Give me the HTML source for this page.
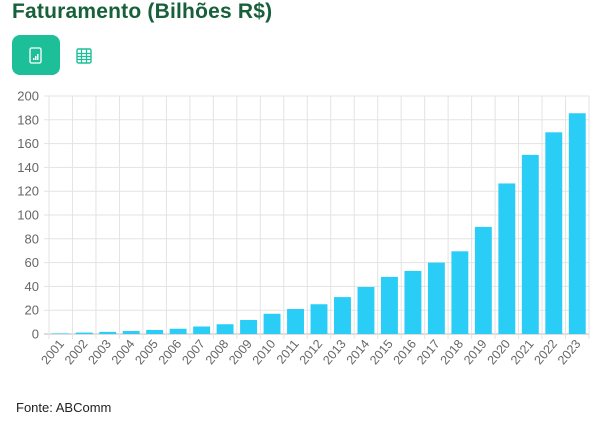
<!DOCTYPE html>
<html><head><meta charset="utf-8"><style>
body{margin:0;width:601px;height:425px;background:#fff;font-family:"Liberation Sans",sans-serif;position:relative;overflow:hidden}
#title{position:absolute;left:12px;top:0px;font-size:21px;font-weight:bold;color:#17603a;letter-spacing:0.2px}
#btn-chart{position:absolute;left:12px;top:35px;width:48px;height:40px;background:#1dbf98;border-radius:8px}
#btn-table{position:absolute;left:76px;top:48px;width:16px;height:16px}
#src{position:absolute;left:16px;top:400px;font-size:13px;color:#222}
svg{position:absolute;left:0;top:0}
</style></head><body>
<div id="title">Faturamento (Bilhões R$)</div>
<div id="btn-chart">
<svg width="48" height="40"><rect x="18" y="13" width="11" height="15" rx="1.5" fill="none" stroke="#fff" stroke-width="1.3"/><rect x="21" y="23" width="1.5" height="2" fill="#fff"/><rect x="23" y="21" width="1.5" height="4" fill="#fff"/><rect x="25" y="19" width="1.5" height="6" fill="#fff"/></svg></div>
<div id="btn-table">
<svg width="16" height="16"><rect x="1" y="1" width="14" height="14" rx="1.5" fill="none" stroke="#1dbf98" stroke-width="1.4"/><path d="M1 5.5H15M1 8.5H15M1 11.5H15M5.5 1V15M10.5 1V15" stroke="#1dbf98" stroke-width="1.2"/></svg></div>
<svg id="chart" width="601" height="425" style="pointer-events:none"></svg>
<div id="src">Fonte: ABComm</div>
<script>
const categories=["2001","2002","2003","2004","2005","2006","2007","2008","2009","2010","2011","2012","2013","2014","2015","2016","2017","2018","2019","2020","2021","2022","2023"];
const values=[0.5,1.2,1.8,2.5,3.4,4.4,6.3,8.2,11.8,17,21,25,31,39.5,48,53,60,69.5,90,126.5,150.5,169.5,185.5];
const yTicks=[0,20,40,60,80,100,120,140,160,180,200];
const svg=document.getElementById('chart');const NS='http://www.w3.org/2000/svg';
const L=49,R=589,T=96,B=334,yMax=200;
const band=(R-L)/categories.length;
const y=v=>B-(v/yMax)*(B-T);
const x=i=>L+i*band;
function mk(t,a){const e=document.createElementNS(NS,t);for(const k in a)e.setAttribute(k,a[k]);svg.appendChild(e);return e;}
yTicks.forEach(v=>{
 const g=mk('line',{x1:L-5,x2:R,y1:y(v),y2:y(v),stroke:v===0?'#bbb':'#e3e3e3','stroke-width':1});
 
 
 const t=mk('text',{x:L-10,y:y(v)+4.5,'text-anchor':'end','font-size':13,fill:'#666','font-family':'Liberation Sans, sans-serif'});
 t.textContent=v;
 
 
});
for(let i=0;i<=categories.length;i++){
 const g=mk('line',{x1:x(i),x2:x(i),y1:T,y2:B+5,stroke:'#e3e3e3','stroke-width':1});
 
 
}
categories.forEach((c,i)=>{
 const bw=band*0.72;const bx=x(i)+(band-bw)/2;
 const r=mk('rect',{x:bx,y:y(values[i]),width:bw,height:B-y(values[i]),fill:'#29cdf5'});
 
 
 const cx=x(i)+band/2+4;
 const t=mk('text',{x:cx,y:B+10,'text-anchor':'end','font-size':12.5,fill:'#666','font-family':'Liberation Sans, sans-serif',transform:`rotate(-50 ${cx} ${B+10})`});
 t.textContent=c;
 
 
});
</script>
</body></html>
